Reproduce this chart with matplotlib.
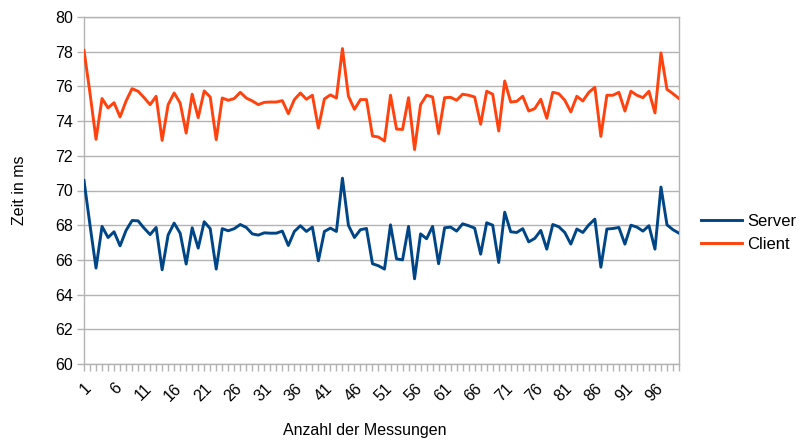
import matplotlib
matplotlib.use('Agg')
import matplotlib.pyplot as plt
import numpy as np

# Messwerte (Zeit in ms), 100 Messungen
messung = list(range(1, 101))

server = [
    70.58, 68.0, 65.53, 67.93, 67.29, 67.62, 66.81, 67.70, 68.27, 68.25,
    67.83, 67.46, 67.87, 65.43, 67.44, 68.12, 67.54, 65.76, 67.85, 66.68,
    68.20, 67.80, 65.47, 67.80, 67.68, 67.80, 68.04, 67.87, 67.50, 67.43,
    67.56, 67.54, 67.54, 67.66, 66.83, 67.64, 67.97, 67.64, 67.89, 65.95,
    67.64, 67.83, 67.64, 70.71, 67.99, 67.29, 67.74, 67.81, 65.78, 65.66,
    65.47, 68.02, 66.06, 66.00, 67.93, 64.91, 67.50, 67.22, 67.93, 65.78,
    67.85, 67.89, 67.66, 68.08, 67.97, 67.83, 66.33, 68.14, 68.00, 65.85,
    68.75, 67.62, 67.58, 67.80, 67.04, 67.24, 67.70, 66.62, 68.04, 67.91,
    67.58, 66.91, 67.78, 67.58, 68.02, 68.35, 65.58, 67.78, 67.81, 67.87,
    66.91, 68.00, 67.89, 67.66, 67.97, 66.62, 70.20, 68.02, 67.74, 67.54,
]

client = [
    78.08, 75.6, 72.95, 75.30, 74.76, 75.06, 74.24, 75.16, 75.87, 75.72,
    75.35, 74.95, 75.43, 72.89, 74.95, 75.62, 75.04, 73.31, 75.55, 74.20,
    75.74, 75.39, 72.93, 75.33, 75.20, 75.30, 75.66, 75.33, 75.16, 74.95,
    75.08, 75.10, 75.10, 75.18, 74.43, 75.24, 75.62, 75.26, 75.49, 73.60,
    75.28, 75.51, 75.33, 78.18, 75.43, 74.68, 75.24, 75.24, 73.14, 73.08,
    72.85, 75.49, 73.54, 73.52, 75.35, 72.36, 74.95, 75.49, 75.39, 73.28,
    75.35, 75.37, 75.20, 75.55, 75.49, 75.39, 73.82, 75.72, 75.55, 73.43,
    76.31, 75.10, 75.14, 75.43, 74.58, 74.72, 75.26, 74.16, 75.66, 75.58,
    75.20, 74.53, 75.43, 75.16, 75.66, 75.95, 73.12, 75.49, 75.49, 75.66,
    74.58, 75.72, 75.49, 75.35, 75.72, 74.47, 77.93, 75.83, 75.58, 75.30,
]

x_labels = list(range(1, 100, 5))
y_ticks = list(range(60, 81, 2))

plt.rcParams['font.family'] = ['Liberation Sans', 'DejaVu Sans']

W, H = 803, 441
fig = plt.figure(figsize=(W / 100, H / 100), dpi=100)
left, right, top, bottom = 84, 679, 17, 364
ax = fig.add_axes([left / W, 1 - bottom / H, (right - left) / W, (bottom - top) / H])

grid_col = '#b3b3b3'
ax.plot(messung, server, color='#004586', lw=2.1, label='Server', zorder=3)
ax.plot(messung, client, color='#ff420e', lw=2.1, label='Client', zorder=3)

ax.set_xlim(1, 100)
ax.set_ylim(60, 80)

ax.set_yticks(y_ticks)
ax.yaxis.grid(True, color=grid_col, lw=1)
ax.set_axisbelow(True)

ax.set_xticks(messung, minor=True)
ax.set_xticks(x_labels)
ax.set_xticklabels([str(v) for v in x_labels], rotation=45, ha='right',
                   va='top', rotation_mode='anchor')

ax.tick_params(axis='both', labelsize=11.5, colors='#333333', labelcolor='black')
ax.tick_params(axis='x', which='both', length=5, width=1, color=grid_col, pad=7)
ax.tick_params(axis='y', length=5, width=1, color=grid_col, pad=3)

for side in ['left', 'bottom', 'right', 'top']:
    ax.spines[side].set_color(grid_col)
    ax.spines[side].set_linewidth(1)

fig.text(365 / W, 1 - 430 / H, 'Anzahl der Messungen', ha='center', va='center',
         fontsize=11.5)
fig.text(20 / W, 1 - 190 / H, 'Zeit in ms', ha='center', va='center',
         rotation=90, fontsize=11.5)

fig.legend(loc='center left', bbox_to_anchor=(701 / W, 1 - 233 / H),
           frameon=False, fontsize=12, handlelength=2.45, handletextpad=0.3,
           labelspacing=0.45, borderpad=0, borderaxespad=0)

fig.savefig('out.png', dpi=100)
